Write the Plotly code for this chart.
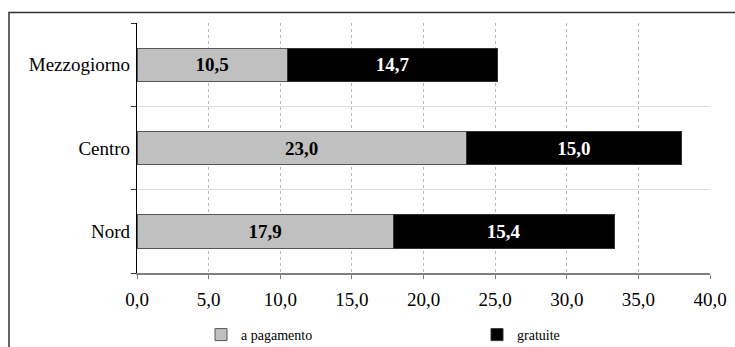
import plotly.graph_objects as go

# Regions, bottom to top as they appear on the chart
regioni = ["Nord", "Centro", "Mezzogiorno"]
a_pagamento = [17.9, 23.0, 10.5]
gratuite = [15.4, 15.0, 14.7]
x_ticks = [0, 5, 10, 15, 20, 25, 30, 35, 40]

FONT = '"Liberation Serif", "Times New Roman", Times, serif'
pos = list(range(len(regioni)))

W, H = 735, 347
L, R, T, B = 137, 25, 23, 74
pw, ph = W - L - R, H - T - B


def px_to_paper_x(p):
    return (p - L) / pw


def px_to_paper_y(p):
    return (H - B - p) / ph


fig = go.Figure()
fig.add_trace(go.Bar(
    y=pos, x=a_pagamento, orientation="h", name="a pagamento",
    width=0.4, marker=dict(color="#C0C0C0", line=dict(color="#555555", width=1)),
    texttemplate="%{x:.1f}", textposition="inside", insidetextanchor="middle",
    textangle=0, constraintext="none",
    textfont=dict(family=FONT, size=19, color="black", weight="bold"),
    legend="legend",
))
fig.add_trace(go.Bar(
    y=pos, x=gratuite, orientation="h", name="gratuite",
    width=0.4, marker=dict(color="black", line=dict(color="#333333", width=1)),
    texttemplate="%{x:.1f}", textposition="inside", insidetextanchor="middle",
    textangle=0, constraintext="none",
    textfont=dict(family=FONT, size=19, color="white", weight="bold"),
    legend="legend2",
))

# outer frame of the chart area (runs off the right and bottom edges)
fig.add_shape(type="rect", xref="paper", yref="paper",
              x0=px_to_paper_x(9), x1=px_to_paper_x(W + 10),
              y0=px_to_paper_y(H + 10), y1=px_to_paper_y(12.5),
              line=dict(color="#333333", width=1.5), fillcolor="rgba(0,0,0,0)",
              layer="below")

legend_common = dict(
    orientation="h", yanchor="middle", y=px_to_paper_y(335), xanchor="left",
    font=dict(family=FONT, size=14, color="black"),
    itemwidth=30, bgcolor="rgba(0,0,0,0)",
)

fig.update_layout(
    width=W, height=H,
    margin=dict(l=L, r=R, t=T, b=B, pad=0, autoexpand=False),
    barmode="stack",
    bargap=0.6,
    separators=",.",
    plot_bgcolor="white", paper_bgcolor="white",
    font=dict(family=FONT, size=19, color="black"),
    showlegend=True,
    legend=dict(x=px_to_paper_x(201), **legend_common),
    legend2=dict(x=px_to_paper_x(477), **legend_common),
    xaxis=dict(
        range=[0, 40], tickvals=x_ticks, tickformat=".1f",
        showgrid=True, gridcolor="#B8B8B8", griddash="dot", gridwidth=1,
        showline=True, linecolor="#808080", linewidth=2,
        ticks="outside", ticklen=4, tickcolor="#808080",
        zeroline=False, fixedrange=True,
        ticklabelstandoff=4,
        tickfont=dict(family=FONT, size=19, color="black"),
    ),
    yaxis=dict(
        range=[-0.5, 2.5], tickvals=pos, ticktext=regioni,
        ticks="", showgrid=False, zeroline=False,
        showline=True, linecolor="black", linewidth=1.2,
        ticklabelstandoff=2,
        tickfont=dict(family=FONT, size=19, color="black"),
        minor=dict(tick0=-0.5, dtick=1, ticks="outside", ticklen=5,
                   tickcolor="#333333", showgrid=True, gridcolor="#DDDDDD",
                   gridwidth=1),
    ),
)

fig.write_html("out.html")
